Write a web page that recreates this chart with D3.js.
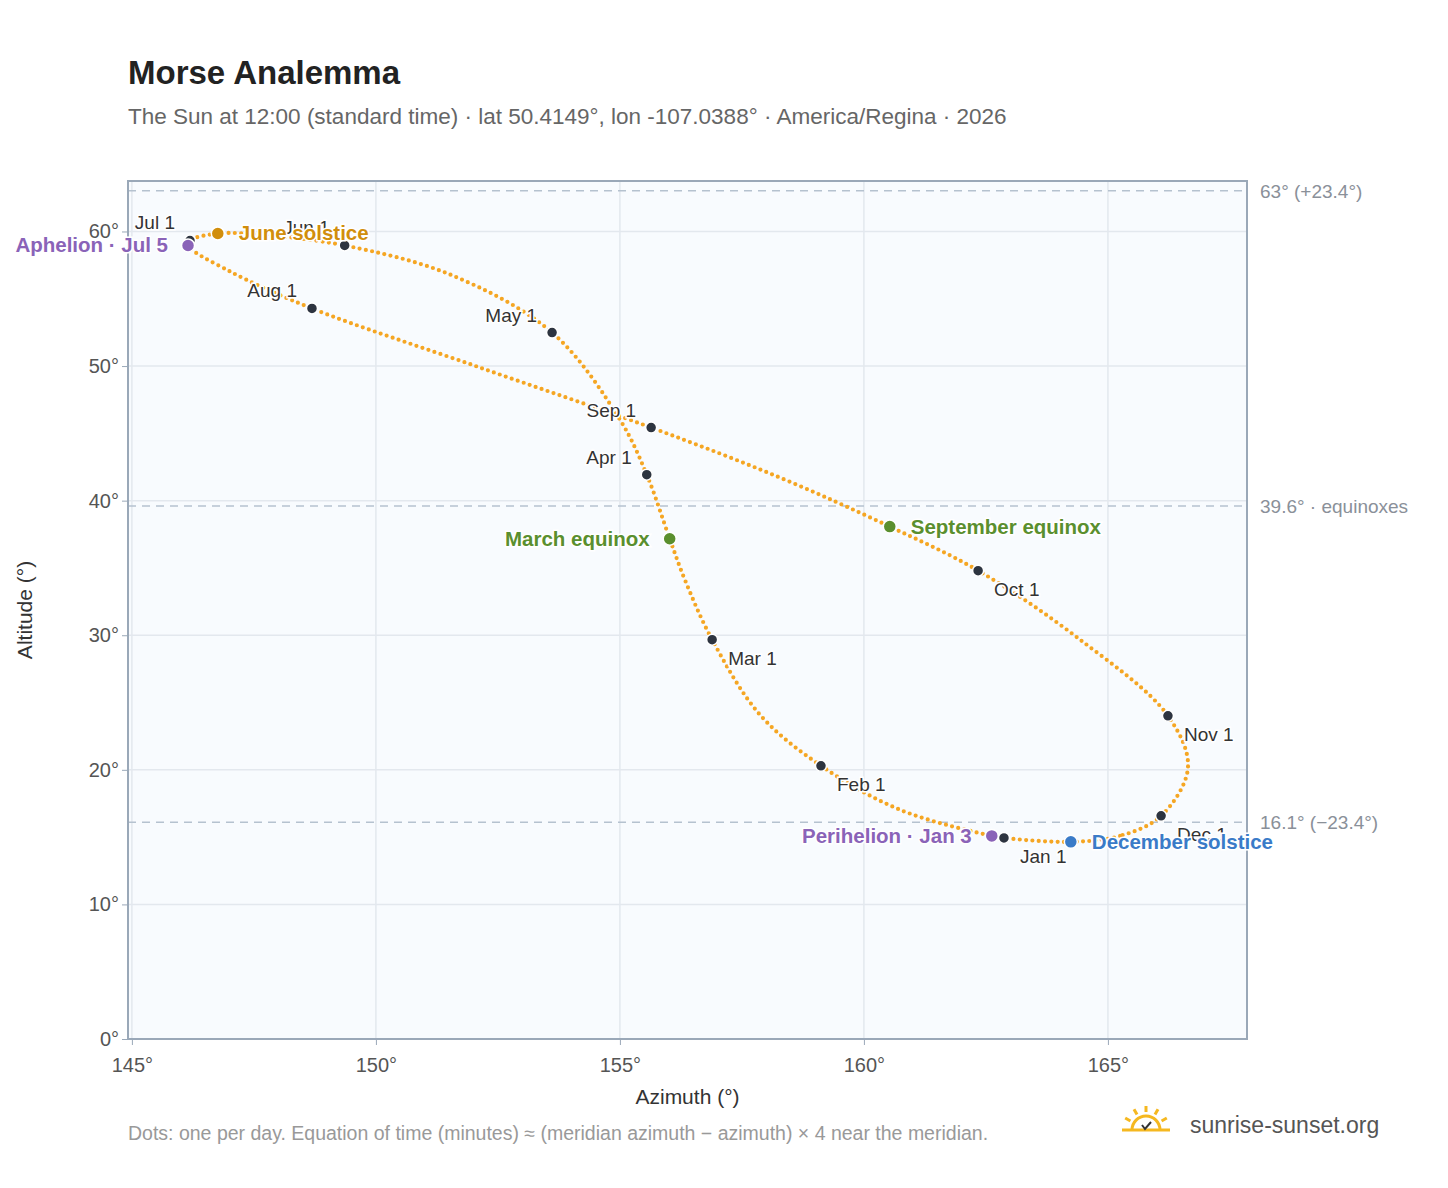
<!DOCTYPE html>
<html><head><meta charset="utf-8">
<script src="https://cdn.jsdelivr.net/npm/d3@7"></script>
<style>body{margin:0;background:#fff;font-family:"Liberation Sans",Arial,sans-serif}</style>
</head><body><svg id="chart" width="1448" height="1188"></svg>
<script>
// path of the sun through the year
const pathDates = ["Dec 1","Dec 15","Dec 21","Jan 1","Jan 3","Jan 15","Feb 1","Feb 15","Mar 1","Mar 15","Mar 20","Apr 1","Apr 15","May 1","May 15","Jun 1","Jun 15","Jun 21","Jul 1","Jul 5","Jul 15","Aug 1","Aug 15","Sep 1","Sep 15","Sep 22","Oct 1","Oct 15","Nov 1","Nov 18","Dec 1"];
const pathAz = [166.09,165.25,164.24,162.87,162.62,160.74,159.12,157.87,156.89,156.33,156.02,155.55,155.0,153.61,151.52,149.36,147.83,146.76,146.19,146.15,147.01,148.69,152.13,155.64,158.28,160.53,162.34,164.43,166.23,166.64,166.09];
const pathAlt = [16.58,15.09,14.65,14.94,15.09,17.03,20.30,24.09,29.67,34.13,37.17,41.93,46.02,52.49,56.80,58.96,59.70,59.85,59.33,58.96,57.03,54.28,49.89,45.43,41.71,38.07,34.80,29.67,24.01,20.15,16.58];

const monthLabels = ["Jan 1","Feb 1","Mar 1","Apr 1","May 1","Jun 1","Jul 1","Aug 1","Sep 1","Oct 1","Nov 1","Dec 1"];
const monthAz = [162.87,159.12,156.89,155.55,153.61,149.36,146.19,148.69,155.64,162.34,166.23,166.09];
const monthAlt = [14.94,20.30,29.67,41.93,52.49,58.96,59.33,54.28,45.43,34.80,24.01,16.58];
const monthLabelSide = ["right","right","right","left","left","left","left","left","left","right","right","right"];

const eventNames = ["June solstice","Aphelion · Jul 5","March equinox","September equinox","December solstice","Perihelion · Jan 3"];
const eventAz = [146.76,146.15,156.02,160.53,164.24,162.62];
const eventAlt = [59.85,58.96,37.17,38.07,14.65,15.09];
const eventColors = ["#d18e0c","#8a63b8","#5a8f2e","#5a8f2e","#3a7bc8","#8a63b8"];
const eventSide = ["right","left","left","right","right","left"];

const refAlt = [63.03,39.6,16.1];
const refLabels = ["63° (+23.4°)","39.6° · equinoxes","16.1° (−23.4°)"];

const xTicks = [145,150,155,160,165];
const yTicks = [0,10,20,30,40,50,60];

const svg = d3.select("#chart");
const L = 128, R = 1247, T = 181, B = 1039;
const x = d3.scaleLinear([144.92, 167.85], [L, R]);
const y = d3.scaleLinear([0, 63.75], [B, T]);

svg.append("text").attr("x",128).attr("y",84).attr("font-size",33).attr("font-weight","bold").attr("fill","#222").text("Morse Analemma");
svg.append("text").attr("x",128).attr("y",124).attr("font-size",22.5).attr("fill","#666")
  .text("The Sun at 12:00 (standard time) · lat 50.4149°, lon -107.0388° · America/Regina · 2026");

svg.append("rect").attr("x",L).attr("y",T).attr("width",R-L).attr("height",B-T).attr("fill","#f8fbfe");

// grid
svg.append("g").selectAll("line").data(xTicks).join("line")
  .attr("x1",d=>x(d)).attr("x2",d=>x(d)).attr("y1",T).attr("y2",B).attr("stroke","#e3e8ee").attr("stroke-width",1.5);
svg.append("g").selectAll("line").data(yTicks).join("line")
  .attr("x1",L).attr("x2",R).attr("y1",d=>y(d)).attr("y2",d=>y(d)).attr("stroke","#e3e8ee").attr("stroke-width",1.5);

// reference lines
svg.append("g").selectAll("line").data(refAlt).join("line")
  .attr("x1",L).attr("x2",R).attr("y1",d=>y(d)).attr("y2",d=>y(d))
  .attr("stroke","#b5c2cf").attr("stroke-width",1.5).attr("stroke-dasharray","8 6");
svg.append("g").selectAll("text").data(refAlt).join("text")
  .attr("x",R+13).attr("y",d=>y(d)+7).attr("font-size",19).attr("fill","#8a9099").text((d,i)=>refLabels[i]);

svg.append("rect").attr("x",L).attr("y",T).attr("width",R-L).attr("height",B-T).attr("fill","none").attr("stroke","#9aa8b8").attr("stroke-width",2);

// axes
const xAxis = svg.append("g").attr("transform",`translate(0,${B})`)
  .call(d3.axisBottom(x).tickValues(xTicks).tickFormat(d=>d+"°").tickSize(6));
const yAxis = svg.append("g").attr("transform",`translate(${L},0)`)
  .call(d3.axisLeft(y).tickValues(yTicks).tickFormat(d=>d+"°").tickSize(6));
[xAxis,yAxis].forEach(a=>{
  a.select(".domain").remove();
  a.selectAll("line").attr("stroke","#9aa8b8");
  a.selectAll("text").attr("font-size",20).attr("fill","#555").attr("font-family","Liberation Sans, Arial");
});
xAxis.selectAll("text").attr("dy","1.2em");
svg.append("text").attr("x",(L+R)/2).attr("y",1104).attr("text-anchor","middle").attr("font-size",21).attr("fill","#333").text("Azimuth (°)");
svg.append("text").attr("transform",`translate(32,${(T+B)/2}) rotate(-90)`).attr("text-anchor","middle").attr("font-size",21).attr("fill","#333").text("Altitude (°)");

// analemma, drawn as daily-looking dots
const line = d3.line().x((d,i)=>x(pathAz[i])).y((d,i)=>y(pathAlt[i])).curve(d3.curveCatmullRomClosed);
svg.append("path").datum(pathDates.slice(0,-1)).attr("d",line)
  .attr("fill","none").attr("stroke","#f5a623").attr("stroke-width",4.2)
  .attr("stroke-linecap","round").attr("stroke-dasharray","0 6.3");

// month markers
svg.append("g").selectAll("circle").data(monthLabels).join("circle")
  .attr("cx",(d,i)=>x(monthAz[i])).attr("cy",(d,i)=>y(monthAlt[i])).attr("r",5.5)
  .attr("fill","#2d3440").attr("stroke","#fff").attr("stroke-width",1.5);
svg.append("g").selectAll("text").data(monthLabels).join("text")
  .attr("x",(d,i)=>x(monthAz[i])+(monthLabelSide[i]==="right"?16:-15))
  .attr("y",(d,i)=>y(monthAlt[i])+(monthLabelSide[i]==="right"?25:-11))
  .attr("text-anchor",(d,i)=>monthLabelSide[i]==="right"?"start":"end")
  .attr("font-size",19).attr("fill","#333")
  .attr("stroke","#fff").attr("stroke-width",3).attr("paint-order","stroke").text(d=>d);

// events
svg.append("g").selectAll("circle").data(eventNames).join("circle")
  .attr("cx",(d,i)=>x(eventAz[i])).attr("cy",(d,i)=>y(eventAlt[i])).attr("r",6.5)
  .attr("fill",(d,i)=>eventColors[i]).attr("stroke","#fff").attr("stroke-width",1.5);
svg.append("g").selectAll("text").data(eventNames).join("text")
  .attr("x",(d,i)=>x(eventAz[i])+(eventSide[i]==="right"?21:-20))
  .attr("y",(d,i)=>y(eventAlt[i])+7)
  .attr("text-anchor",(d,i)=>eventSide[i]==="right"?"start":"end")
  .attr("font-size",20.5).attr("font-weight","bold").attr("fill",(d,i)=>eventColors[i])
  .attr("stroke","#fff").attr("stroke-width",3).attr("paint-order","stroke").text(d=>d);

// footer
svg.append("text").attr("x",128).attr("y",1140).attr("font-size",19.5).attr("fill","#999")
  .text("Dots: one per day. Equation of time (minutes) ≈ (meridian azimuth − azimuth) × 4 near the meridian.");
const logo = svg.append("g").attr("transform","translate(1146,1126)");
logo.append("path").attr("d","M-14,4 A14,14 0 0 1 14,4").attr("fill","none").attr("stroke","#f5b820").attr("stroke-width",3);
[-60,-30,0,30,60].forEach(a=>{
  const r = a*Math.PI/180;
  logo.append("line").attr("x1",Math.sin(r)*18).attr("y1",-Math.cos(r)*18+4).attr("x2",Math.sin(r)*24).attr("y2",-Math.cos(r)*24+4)
    .attr("stroke","#f5b820").attr("stroke-width",3);
});
logo.append("line").attr("x1",-24).attr("x2",24).attr("y1",4).attr("y2",4).attr("stroke","#f5b820").attr("stroke-width",3);
logo.append("path").attr("d","M-4,-1 L-1,3 L5,-4").attr("fill","none").attr("stroke","#333").attr("stroke-width",2);
svg.append("text").attr("x",1190).attr("y",1133).attr("font-size",23).attr("fill","#555").text("sunrise-sunset.org");
</script></body></html>
